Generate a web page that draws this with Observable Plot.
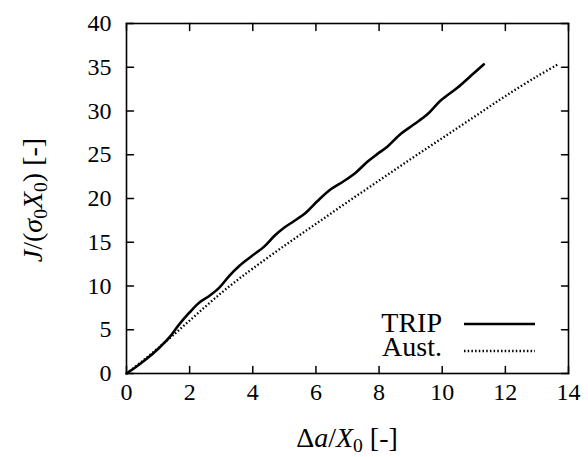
<!DOCTYPE html>
<html><head><meta charset="utf-8">
<script src="https://cdn.jsdelivr.net/npm/d3@7"></script>
<script src="https://cdn.jsdelivr.net/npm/@observablehq/plot@0.6"></script>
<style>body{margin:0;background:#fff} svg{display:block}
#chart svg, #chart svg text, #chart svg tspan{font-family:"Liberation Serif","Times New Roman","DejaVu Serif",serif !important}</style>
</head><body><div id="chart"></div>
<script>
// TRIP series (solid)
const tripX = [0,0.3,0.62,1.04,1.35,1.67,1.99,2.30,2.62,2.94,3.25,3.57,3.94,4.36,4.68,4.99,5.31,5.68,6.05,6.47,6.89,7.26,7.63,7.95,8.27,8.69,9.11,9.53,9.95,10.48,10.90,11.32];
const tripY = [0,0.75,1.62,2.95,4.09,5.62,6.95,8.09,8.86,9.81,11.14,12.29,13.35,14.5,15.71,16.66,17.43,18.38,19.71,21.05,22.0,22.95,24.2,25.1,25.95,27.4,28.48,29.62,31.2,32.66,34.0,35.34];
// Aust. series (dotted)
const austX = [0,0.5,1,1.5,2,2.5,3,3.5,4,5,6,7,8,9,10,11,12,13,13.65];
const austY = [0,1.4,2.9,4.45,6.05,7.65,9.2,10.65,12.0,14.6,17.1,19.6,22.05,24.5,26.9,29.3,31.7,33.95,35.3];
const xTicks = [0,2,4,6,8,10,12,14];
const yTicks = [0,5,10,15,20,25,30,35,40];
const seriesNames = ["TRIP","Aust."];

const tripData = tripX.map((x,i)=>({x, y:tripY[i]}));
const austData = austX.map((x,i)=>({x, y:austY[i]}));

const font = "'Liberation Serif', 'Times New Roman', 'DejaVu Serif', serif";
const fs = 24;      // tick labels
const fsTitle = 28; // axis titles
const fsLeg = 28;   // legend
const tk = 7;
const dots = "1.5,2.2";

const tickShape = {draw(context, l) { context.moveTo(0, 0); context.lineTo(0, -l); }};

const plot = Plot.plot({
  width: 588, height: 457,
  marginLeft: 126, marginRight: 20, marginTop: 23, marginBottom: 84,
  style: {fontFamily: font, fontSize: fs + "px", background: "#fff", color: "#000", overflow: "visible"},
  x: {domain: [0, 14]},
  y: {domain: [0, 40]},
  marks: [
    Plot.axisX({anchor: "bottom", ticks: xTicks, tickSize: 0, tickPadding: 9, label: null, fontSize: fs}),
    Plot.axisY({anchor: "left", ticks: yTicks, tickSize: 0, tickPadding: 15, label: null, fontSize: fs}),
    // inward ticks on all four sides
    Plot.vector(xTicks, {x: d => d, frameAnchor: "bottom", rotate: 0, length: tk, anchor: "start", shape: tickShape, stroke: "#000", strokeWidth: 1.5}),
    Plot.vector(xTicks, {x: d => d, frameAnchor: "top", rotate: 180, length: tk, anchor: "start", shape: tickShape, stroke: "#000", strokeWidth: 1.5}),
    Plot.vector(yTicks, {y: d => d, frameAnchor: "left", rotate: 90, length: tk, anchor: "start", shape: tickShape, stroke: "#000", strokeWidth: 1.5}),
    Plot.vector(yTicks, {y: d => d, frameAnchor: "right", rotate: -90, length: tk, anchor: "start", shape: tickShape, stroke: "#000", strokeWidth: 1.5}),
    Plot.line(austData, {x: "x", y: "y", stroke: "#000", strokeWidth: 2.3, strokeDasharray: dots, strokeLinecap: "butt", curve: "catmull-rom"}),
    Plot.line(tripData, {x: "x", y: "y", stroke: "#000", strokeWidth: 2.6, curve: "catmull-rom"}),
    Plot.frame({stroke: "#000", strokeWidth: 1.6})
  ]
});

const svg = d3.select(plot);

// Axis titles with math-style formatting
function addRich(g, parts, size) {
  parts.forEach(p => {
    const t = g.append("tspan").text(p.t);
    if (p.i) t.attr("font-style", "italic");
    if (p.sub) t.attr("font-size", size * 0.7).attr("baseline-shift", "-25%");
  });
}
const xl = svg.append("text").attr("x", 347).attr("y", 447)
  .attr("text-anchor", "middle").attr("font-size", fsTitle).attr("fill", "#000");
addRich(xl, [{t: "Δ"}, {t: "a", i: true}, {t: "/"}, {t: "X", i: true}, {t: "0", sub: true}, {t: " [-]"}], fsTitle);

const yl = svg.append("text").attr("transform", "translate(42,200) rotate(-90)")
  .attr("text-anchor", "middle").attr("font-size", fsTitle).attr("fill", "#000");
addRich(yl, [{t: "J", i: true}, {t: "/("}, {t: "σ", i: true}, {t: "0", sub: true}, {t: "X", i: true}, {t: "0", sub: true}, {t: ") [-]"}], fsTitle);

// Legend
const leg = svg.append("g").attr("font-size", fsLeg).attr("fill", "#000");
const legRows = [
  {name: seriesNames[0], ty: 332, ly: 324, dash: null, w: 2.6},
  {name: seriesNames[1], ty: 356, ly: 351, dash: dots, w: 2.3}
];
legRows.forEach(r => {
  leg.append("text").attr("x", 442).attr("y", r.ty).attr("text-anchor", "end").text(r.name);
  const ln = leg.append("line").attr("x1", 464).attr("x2", 535).attr("y1", r.ly).attr("y2", r.ly)
    .attr("stroke", "#000").attr("stroke-width", r.w);
  if (r.dash) ln.attr("stroke-dasharray", r.dash);
});

document.getElementById("chart").appendChild(plot);
</script>
</body></html>
